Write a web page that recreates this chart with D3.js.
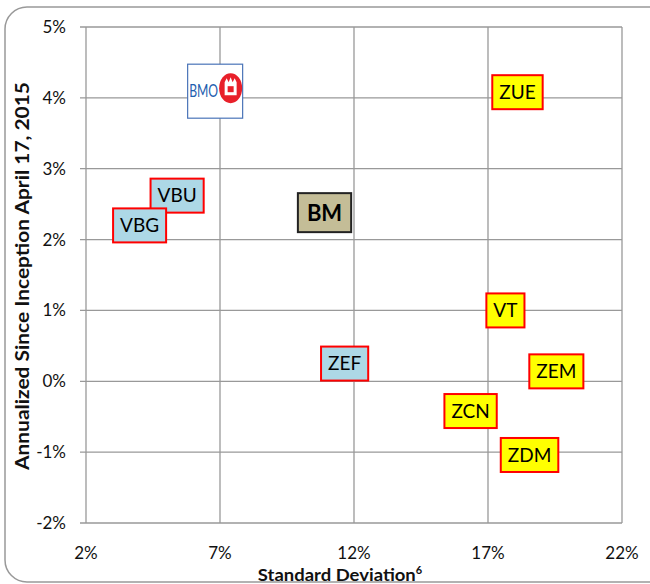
<!DOCTYPE html>
<html>
<head>
<meta charset="utf-8">
<script src="https://cdn.jsdelivr.net/npm/d3@7"></script>
<style>
  body { margin: 0; background: #fff; }
  svg text { font-family: Lato, "Open Sans", sans-serif; }
</style>
</head>
<body>
<div id="chart"></div>
<script>
// fund labels, std dev (%), annualized return (%)
const funds   = ["ZUE", "VBU", "VBG", "BM", "VT", "ZEF", "ZEM", "ZCN", "ZDM"];
const stdDev  = [18.1, 5.4, 4.0, 10.9, 17.65, 11.65, 19.55, 16.35, 18.55];
const returns = [4.08, 2.62, 2.2, 2.38, 1.0, 0.25, 0.14, -0.42, -1.04];
const kind    = ["equity", "bond", "bond", "bench", "equity", "bond", "equity", "equity", "equity"];
const bmoPoint = [6.8, 4.08];

const xTicks = [2, 7, 12, 17, 22];
const yTicks = [-2, -1, 0, 1, 2, 3, 4, 5];

const W = 650, H = 584;
const margin = {top: 27, right: 28, bottom: 61, left: 86};

const fills = {equity: "#ffff00", bond: "#add8e6", bench: "#c4bd97"};
const strokes = {equity: "#ff0000", bond: "#ff0000", bench: "#222"};

const svg = d3.select("#chart").append("svg")
    .attr("width", W)
    .attr("height", H);

// outer rounded frame
svg.append("rect")
    .attr("x", 5).attr("y", 7)
    .attr("width", 680).attr("height", 575)
    .attr("rx", 22)
    .attr("fill", "none")
    .attr("stroke", "#999")
    .attr("stroke-width", 1.5);

const x = d3.scaleLinear().domain([2, 22]).range([margin.left, W - margin.right]);
const y = d3.scaleLinear().domain([-2, 5]).range([H - margin.bottom, margin.top]);

// grid
const grid = svg.append("g").attr("stroke", "#999").attr("stroke-width", 1.3);
grid.selectAll(".gx")
    .data(xTicks)
    .enter().append("line")
    .attr("x1", d => x(d)).attr("x2", d => x(d))
    .attr("y1", y(-2)).attr("y2", y(5));
grid.selectAll(".gy")
    .data(yTicks)
    .enter().append("line")
    .attr("x1", x(2) - 6).attr("x2", x(22))
    .attr("y1", d => y(d)).attr("y2", d => y(d));

// tick labels
svg.selectAll(".ylab")
    .data(yTicks)
    .enter().append("text")
    .attr("x", x(2) - 20)
    .attr("y", d => y(d))
    .attr("dy", "0.35em")
    .attr("text-anchor", "end")
    .attr("font-size", 17)
    .attr("fill", "#111")
    .text(d => d + "%");

svg.selectAll(".xlab")
    .data(xTicks)
    .enter().append("text")
    .attr("x", d => x(d))
    .attr("y", 553)
    .attr("dy", "0.35em")
    .attr("text-anchor", "middle")
    .attr("font-size", 17)
    .attr("fill", "#111")
    .text(d => d + "%");

// axis titles
const xt = svg.append("text")
    .attr("x", 340).attr("y", 581)
    .attr("text-anchor", "middle")
    .attr("font-size", 17)
    .attr("font-weight", "bold")
    .attr("fill", "#111");
xt.append("tspan")
    .attr("textLength", 158).attr("lengthAdjust", "spacingAndGlyphs")
    .text("Standard Deviation");
xt.append("tspan").attr("font-size", 11).attr("dy", -7).text("6");

svg.append("text")
    .attr("transform", "translate(29," + 276 + ") rotate(-90)")
    .attr("text-anchor", "middle")
    .attr("font-size", 18)
    .attr("font-weight", "bold")
    .attr("fill", "#111")
    .attr("textLength", 388).attr("lengthAdjust", "spacingAndGlyphs")
    .text("Annualized Since Inception April 17, 2015");

// labelled points
const pts = svg.selectAll(".pt")
    .data(funds.map((f, i) => ({name: f, sd: stdDev[i], ret: returns[i], kind: kind[i]})))
    .enter().append("g")
    .attr("transform", d => "translate(" + x(d.sd) + "," + y(d.ret) + ")");

pts.each(function(d) {
    const g = d3.select(this);
    const bench = d.kind === "bench";
    const rect = g.append("rect");
    const t = g.append("text")
        .attr("text-anchor", "middle")
        .attr("dy", "0.36em")
        .attr("font-size", bench ? 22 : 19)
        .attr("font-weight", bench ? "bold" : "normal")
        .attr("fill", "#000")
        .text(d.name);
    const w = t.node().getComputedTextLength() + (bench ? 18 : 14);
    const h = bench ? 39 : 34;
    rect.attr("x", -w / 2).attr("y", -h / 2)
        .attr("width", w).attr("height", h)
        .attr("fill", fills[d.kind])
        .attr("stroke", strokes[d.kind])
        .attr("stroke-width", 2);
});

// BMO logo
const bmo = svg.append("g")
    .attr("transform", "translate(" + x(bmoPoint[0]) + "," + y(bmoPoint[1]) + ")");
bmo.append("rect")
    .attr("x", -27).attr("y", -28).attr("width", 55).attr("height", 54)
    .attr("fill", "#fff").attr("stroke", "#4a74b8").attr("stroke-width", 1.2);
bmo.append("text")
    .attr("x", -11).attr("y", 5)
    .attr("text-anchor", "middle")
    .attr("font-family", "'Liberation Serif', serif")
    .attr("font-size", 18)
    .attr("fill", "#1f5fb0")
    .attr("textLength", 29).attr("lengthAdjust", "spacingAndGlyphs")
    .text("BMO");
bmo.append("ellipse")
    .attr("cx", 16).attr("cy", -4).attr("rx", 11.5).attr("ry", 15)
    .attr("fill", "#e8202a");
bmo.append("path")
    .attr("d", "M10,-10 L12,-14 L14,-10 L16,-15 L18,-10 L20,-14 L22,-10 L22,3 L10,3 Z")
    .attr("fill", "#fff");
bmo.append("rect")
    .attr("x", 13).attr("y", -6).attr("width", 6).attr("height", 6)
    .attr("fill", "#e8202a");
</script>
</body>
</html>
